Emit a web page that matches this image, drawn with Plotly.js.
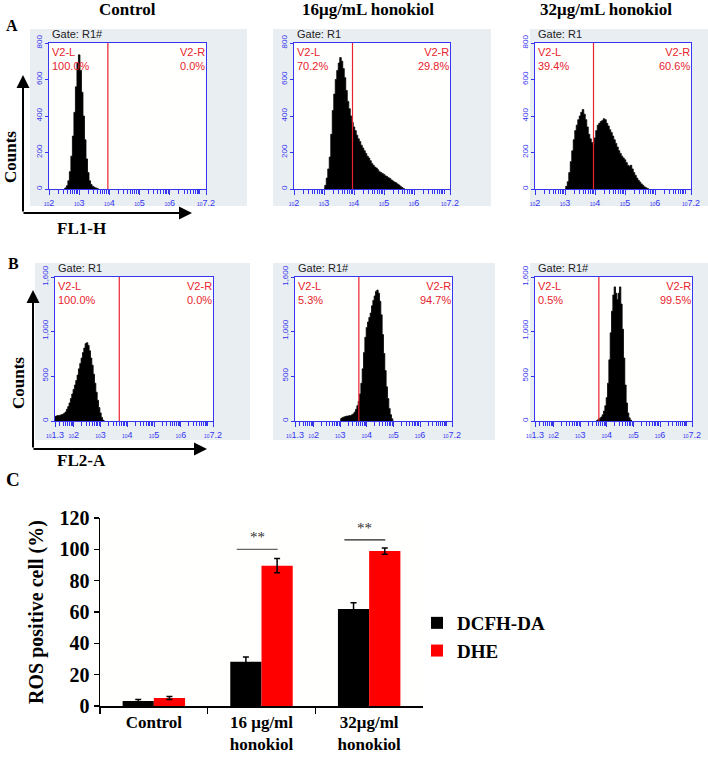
<!DOCTYPE html>
<html>
<head>
<meta charset="utf-8">
<script src="https://cdn.plot.ly/plotly-3.0.1.min.js"></script>
<style>html,body{margin:0;padding:0;background:#fff;}#chart{width:708px;height:771px;}</style>
</head>
<body>
<div id="chart"></div>
<script>
// ---------- DATA ----------
// Panel A (FL1-H, DCFH-DA) histograms: log10 fluorescence vs counts
const ctrlA_log = [2.50,2.55,2.60,2.65,2.70,2.75,2.80,2.85,2.90,2.95,3.00,3.05,3.10,3.15,3.20,3.25,3.30,3.35,3.40,3.45,3.50,3.55,3.60,3.65];
const ctrlA_cnt = [0,6,18,45,95,180,290,420,560,690,735,650,530,400,270,165,90,45,25,15,10,6,3,0];

const h16A_log = [3.00,3.05,3.10,3.15,3.20,3.25,3.30,3.35,3.40,3.45,3.50,3.55,3.60,3.65,3.70,3.75,3.80,3.85,3.90,3.95,4.00,4.05,4.10,4.15,4.20,4.25,4.30,4.35,4.40,4.45,4.50,4.55,4.60,4.65,4.70,4.75,4.80,4.85,4.90,4.95,5.00,5.05,5.10,5.15,5.20,5.25,5.30,5.35,5.40,5.45,5.50,5.55,5.60,5.65,5.70];
const h16A_cnt = [0,20,60,110,175,300,430,520,600,650,690,720,700,660,610,540,480,440,400,365,340,320,295,275,260,240,225,210,195,180,170,155,140,130,120,115,105,95,90,85,80,72,68,62,58,50,44,38,34,28,22,15,8,3,0];

const h32A_log = [3.00,3.05,3.10,3.15,3.20,3.25,3.30,3.35,3.40,3.45,3.50,3.55,3.60,3.65,3.70,3.75,3.80,3.85,3.90,3.95,4.00,4.05,4.10,4.15,4.20,4.25,4.30,4.35,4.40,4.45,4.50,4.55,4.60,4.65,4.70,4.75,4.80,4.85,4.90,4.95,5.00,5.05,5.10,5.15,5.20,5.25,5.30,5.35,5.40,5.45,5.50,5.55,5.60,5.65,5.70,5.75,5.80];
const h32A_cnt = [0,15,40,90,150,210,270,320,350,380,400,420,435,410,380,340,300,275,255,245,280,320,350,360,370,375,385,380,360,345,325,310,290,270,250,230,210,195,180,170,160,145,130,125,130,110,90,75,60,48,38,28,20,12,7,3,0];

// Panel B (FL2-A, DHE) histograms
const ctrlB_log = [1.30,1.35,1.40,1.45,1.50,1.55,1.60,1.65,1.70,1.75,1.80,1.85,1.90,1.95,2.00,2.05,2.10,2.15,2.20,2.25,2.30,2.35,2.40,2.45,2.50,2.55,2.60,2.65,2.70,2.75,2.80,2.85,2.90,2.95,3.00,3.05,3.10,3.15];
const ctrlB_cnt = [50,55,60,60,65,70,75,85,100,130,160,200,250,300,350,400,450,510,580,640,700,760,810,860,870,840,780,700,620,520,420,320,230,150,90,40,10,0];

const h16B_log = [3.00,3.05,3.10,3.15,3.20,3.25,3.30,3.35,3.40,3.45,3.50,3.55,3.60,3.65,3.70,3.75,3.80,3.85,3.90,3.95,4.00,4.05,4.10,4.15,4.20,4.25,4.30,4.35,4.40,4.45,4.50,4.55,4.60,4.65,4.70,4.75,4.80,4.85,4.90,4.95,5.00];
const h16B_cnt = [20,30,40,45,50,55,55,60,60,70,80,100,130,170,220,300,420,580,760,930,1040,1100,1150,1200,1280,1340,1390,1440,1455,1420,1330,1180,960,750,560,380,250,140,70,25,0];

const h32B_log = [3.60,3.65,3.70,3.75,3.80,3.85,3.90,3.95,4.00,4.05,4.10,4.15,4.20,4.25,4.30,4.35,4.40,4.45,4.50,4.55,4.60,4.65,4.70,4.75,4.80,4.85,4.90,4.95];
const h32B_cnt = [0,10,20,30,45,70,110,170,260,420,680,980,1220,1400,1490,1420,1350,1420,1490,1300,1020,700,400,200,90,35,10,0];

// gate (marker) positions, log10
const gateA_log = 3.95;
const gateB_log = 3.70;

const panelTitles = ["Control", "16μg/mL honokiol", "32μg/mL honokiol"];
const gateLabels = ["Gate: R1#", "Gate: R1", "Gate: R1", "Gate: R1", "Gate: R1#", "Gate: R1#"];
const leftPct  = ["100.0%", "70.2%", "39.4%", "100.0%", "5.3%", "0.5%"];
const rightPct = ["0.0%", "29.8%", "60.6%", "0.0%", "94.7%", "99.5%"];

const yTicksA = [0, 200, 400, 600, 800];
const yTickTextA = ["0", "200", "400", "600", "800"];
const yTicksB = [0, 500, 1000, 1600];
const yTickTextB = ["0", "500", "1,000", "1,600"];
const xTickExpA = [2, 3, 4, 5, 6, 7.2];
const xTickExpB = [1.3, 2, 3, 4, 5, 6, 7.2];

// Panel C bar chart
const categories = ["Control", "16 μg/ml<br>honokiol", "32μg/ml<br>honokiol"];
const seriesNames = ["DCFH-DA", "DHE"];
const dcfh = [3.2, 28.2, 61.9];
const dcfhErr = [1.0, 3.0, 4.0];
const dhe = [5.1, 89.6, 98.9];
const dheErr = [1.0, 4.5, 2.0];
const yTicksC = [0, 20, 40, 60, 80, 100, 120];

// ---------- BUILD ----------
const W = 708, H = 771;
const px = v => v / W;
const py = v => 1 - v / H;
const blue = '#3636f0';
const redc = '#e8232d';
const serif = 'Liberation Serif';
const sans = 'Liberation Sans';
const gray = '#e9eef2';

const histLogs = [ctrlA_log, h16A_log, h32A_log, ctrlB_log, h16B_log, h32B_log];
const histCnts = [ctrlA_cnt, h16A_cnt, h32A_cnt, ctrlB_cnt, h16B_cnt, h32B_cnt];

// plot-area boxes in pixels [left, right, top, bottom]
const boxes = [
  [49, 206, 43, 189], [294, 450, 43, 189], [535, 691, 43, 189],
  [55, 213, 277, 421], [295, 452, 277, 421], [535, 692, 277, 421]
];
const grayBoxes = [
  [30, 247, 29, 206], [273, 491, 29, 206], [530, 708, 29, 206],
  [35, 250, 263, 440], [273, 495, 263, 440], [530, 708, 263, 440]
];

const data = [];
const layout = {
  width: W, height: H,
  margin: {l: 0, r: 0, t: 0, b: 0},
  paper_bgcolor: '#ffffff',
  plot_bgcolor: '#fffffe',
  showlegend: true,
  shapes: [], annotations: [],
  bargap: 0.42, bargroupgap: 0,
  barmode: 'group'
};

function expLabel(e) {
  return '<span style="font-size:5px">10</span>' + e;
}
function grayRect(x0, x1, y0, y1) {
  return {
    type: 'rect', xref: 'paper', yref: 'paper', layer: 'below',
    x0: px(x0), x1: px(x1), y0: py(y1), y1: py(y0),
    fillcolor: gray, line: {width: 0}
  };
}

for (let i = 0; i < 6; i++) {
  const n = i + 1;
  const xs = n === 1 ? 'x' : 'x' + n;
  const ys = n === 1 ? 'y' : 'y' + n;
  const isA = i < 3;
  const b = boxes[i];
  data.push({
    type: 'scatter', mode: 'lines',
    x: histLogs[i].map(v => Math.pow(10, v)),
    y: histCnts[i],
    xaxis: xs, yaxis: ys,
    line: {color: '#000', width: 0.8, shape: 'hvh'},
    fill: 'tozeroy', fillcolor: '#000',
    showlegend: false, hoverinfo: 'skip'
  });
  const g = isA ? gateA_log : gateB_log;
  const ymax = isA ? 800 : 1600;
  data.push({
    type: 'scatter', mode: 'lines',
    x: [Math.pow(10, g), Math.pow(10, g)], y: [0, ymax],
    xaxis: xs, yaxis: ys,
    line: {color: redc, width: 1.2},
    showlegend: false, hoverinfo: 'skip', cliponaxis: false
  });
  const exps = isA ? xTickExpA : xTickExpB;
  layout['xaxis' + (n === 1 ? '' : n)] = {
    domain: [px(b[0]), px(b[1])],
    anchor: ys,
    type: 'log',
    range: [exps[0], exps[exps.length - 1]],
    showline: true, linecolor: blue, linewidth: 1.2, mirror: true,
    showgrid: false, zeroline: false,
    ticks: 'outside', ticklen: 5, tickcolor: blue, tickwidth: 1,
    tickmode: 'array',
    tickvals: exps.map(e => Math.pow(10, e)),
    ticktext: exps.map(expLabel),
    tickfont: {family: sans, size: 9, color: blue},
    minor: {ticks: 'outside', ticklen: 4, tickcolor: blue, tickwidth: 1, dtick: 'D1', showgrid: false},
    fixedrange: true
  };
  layout['yaxis' + (n === 1 ? '' : n)] = {
    domain: [py(b[3]), py(b[2])],
    anchor: xs,
    range: [0, ymax],
    showline: true, linecolor: blue, linewidth: 1.2, mirror: true,
    showgrid: false, zeroline: false,
    ticks: 'outside', ticklen: 3, tickcolor: blue,
    tickmode: 'array',
    tickvals: isA ? yTicksA : yTicksB,
    ticktext: isA ? yTickTextA : yTickTextB,
    tickangle: -90,
    tickfont: {family: sans, size: 8, color: blue},
    fixedrange: true
  };
  const gb = grayBoxes[i];
  layout.shapes.push(grayRect(gb[0], gb[1], gb[2], b[2]));
  layout.shapes.push(grayRect(gb[0], gb[1], b[3], gb[3]));
  layout.shapes.push(grayRect(gb[0], b[0], b[2], b[3]));
  layout.shapes.push(grayRect(b[1], gb[1], b[2], b[3]));
  layout.annotations.push({
    xref: 'paper', yref: 'paper', x: px(b[0] + 1), y: py(b[2] - 1),
    xanchor: 'left', yanchor: 'bottom', showarrow: false,
    text: gateLabels[i], font: {family: sans, size: 11, color: '#222'}
  });
  layout.annotations.push({
    xref: 'paper', yref: 'paper', x: px(b[0] + 1), y: py(b[2] + 1),
    xanchor: 'left', yanchor: 'top', showarrow: false, align: 'left',
    text: 'V2-L<br>' + leftPct[i], font: {family: sans, size: 11, color: redc}
  });
  layout.annotations.push({
    xref: 'paper', yref: 'paper', x: px(b[1] + 1), y: py(b[2] + 1),
    xanchor: 'right', yanchor: 'top', showarrow: false, align: 'right',
    text: 'V2-R<br>' + rightPct[i], font: {family: sans, size: 11, color: redc}
  });
}

const titleX = [127, 368, 606];
for (let j = 0; j < 3; j++) {
  layout.annotations.push({
    xref: 'paper', yref: 'paper', x: px(titleX[j]), y: py(10),
    xanchor: 'center', yanchor: 'middle', showarrow: false,
    text: '<b>' + panelTitles[j] + '</b>', font: {family: serif, size: 17, color: '#000'}
  });
}
[['A', 12, 26], ['B', 13, 263], ['C', 13, 479]].forEach(p => {
  layout.annotations.push({
    xref: 'paper', yref: 'paper', x: px(p[1]), y: py(p[2]),
    xanchor: 'center', yanchor: 'middle', showarrow: false,
    text: '<b>' + p[0] + '</b>', font: {family: serif, size: p[0] === 'C' ? 19 : 16, color: '#000'}
  });
});
[[11, 157, 23, 75, 213, 192, 'FL1-H', 228], [18, 383, 33, 290, 449, 207, 'FL2-A', 460]].forEach(a => {
  layout.annotations.push({
    xref: 'paper', yref: 'paper', x: px(a[0]), y: py(a[1]),
    xanchor: 'center', yanchor: 'middle', showarrow: false, textangle: -90,
    text: '<b>Counts</b>', font: {family: serif, size: 17, color: '#000'}
  });
  layout.annotations.push({
    xref: 'paper', yref: 'paper', x: px(a[2]), y: py(a[3]),
    axref: 'pixel', ayref: 'pixel', ax: 0, ay: a[4] - a[3],
    showarrow: true, arrowhead: 2, arrowsize: 1.3, arrowwidth: 2, arrowcolor: '#000', text: ''
  });
  layout.annotations.push({
    xref: 'paper', yref: 'paper', x: px(a[5]), y: py(a[4]),
    axref: 'pixel', ayref: 'pixel', ax: -(a[5] - a[2] + 1), ay: 0,
    showarrow: true, arrowhead: 2, arrowsize: 1.3, arrowwidth: 2, arrowcolor: '#000', text: ''
  });
  layout.annotations.push({
    xref: 'paper', yref: 'paper', x: px(55), y: py(a[7]),
    xanchor: 'left', yanchor: 'middle', showarrow: false,
    text: '<b>' + a[6] + '</b>', font: {family: serif, size: 17, color: '#000'}
  });
});

data.push({
  type: 'bar', name: '<b>' + seriesNames[0] + '</b>', x: categories, y: dcfh,
  xaxis: 'x7', yaxis: 'y7', marker: {color: '#000'},
  error_y: {type: 'data', array: dcfhErr, color: '#000', thickness: 1.5, width: 3}
});
data.push({
  type: 'bar', name: '<b>' + seriesNames[1] + '</b>', x: categories, y: dhe,
  xaxis: 'x7', yaxis: 'y7', marker: {color: '#ff0000'},
  error_y: {type: 'data', array: dheErr, color: '#000', thickness: 1.5, width: 3}
});
layout.xaxis7 = {
  domain: [px(100), px(423)], anchor: 'y7', type: 'category',
  showline: true, linecolor: '#000', linewidth: 1.5,
  ticks: 'outside', tickson: 'boundaries', ticklen: 6, tickwidth: 1.5, tickcolor: '#000',
  tickmode: 'array', tickvals: categories, ticktext: categories.map(c => '<b>' + c.replace('<br>', '</b><br><b>') + '</b>'),
  tickfont: {family: serif, size: 17, color: '#000'},
  showgrid: false, zeroline: false, fixedrange: true
};
layout.yaxis7 = {
  domain: [py(706), py(518)], anchor: 'x7', range: [0, 120],
  showline: true, linecolor: '#000', linewidth: 1.5,
  ticks: 'outside', ticklen: 5, tickwidth: 1.5, tickcolor: '#000',
  tickmode: 'array', tickvals: yTicksC, ticktext: yTicksC.map(v => '<b>' + v + '</b>'),
  tickfont: {family: serif, size: 20, color: '#000'},
  title: {text: '<b>ROS positive cell (%)</b>', font: {family: serif, size: 20, color: '#000'}, standoff: 10},
  showgrid: false, zeroline: false, fixedrange: true
};
layout.legend = {
  x: px(417), y: py(637), xanchor: 'left', yanchor: 'middle',
  font: {family: serif, size: 19, color: '#000'},
  bgcolor: 'rgba(0,0,0,0)', itemclick: false
};
[[0.77, 1.15, 100], [1.77, 2.15, 106]].forEach((s, k) => {
  layout.shapes.push({
    type: 'line', xref: 'x7', yref: 'y7', x0: s[0], x1: s[1], y0: s[2], y1: s[2],
    line: {color: k === 0 ? '#666' : '#222', width: 1.3}
  });
  layout.annotations.push({
    xref: 'x7', yref: 'y7', x: (s[0] + s[1]) / 2, y: s[2] + 1.5,
    xanchor: 'center', yanchor: 'bottom', showarrow: false,
    text: '**', font: {family: serif, size: 15, color: '#333'}
  });
});

Plotly.newPlot('chart', data, layout, {staticPlot: true});
</script>
</body>
</html>
